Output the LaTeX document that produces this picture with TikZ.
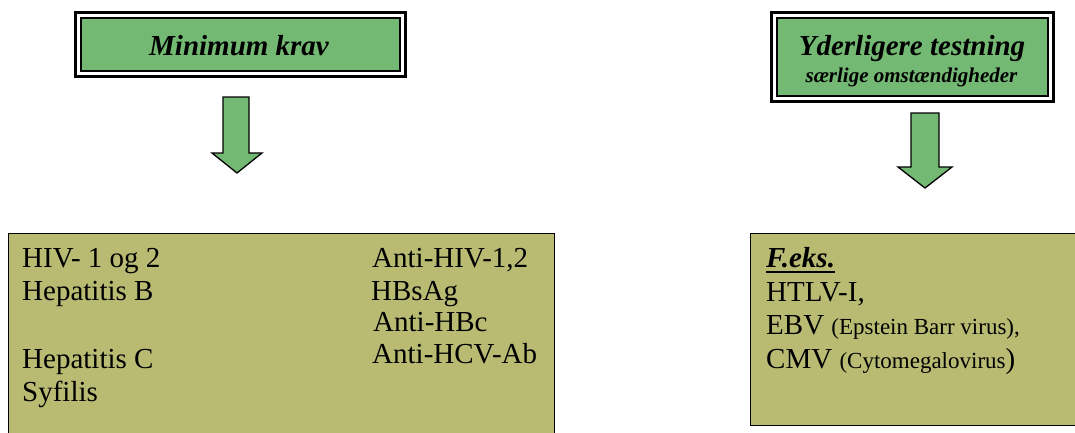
\documentclass[tikz,border=0pt]{standalone}
\usepackage{fontspec}
\setmainfont{Liberation Serif}
\usetikzlibrary{fit}
\definecolor{boxgreen}{RGB}{115,185,115}
\definecolor{boxolive}{RGB}{185,187,115}

\begin{document}
\begin{tikzpicture}[x=1pt,y=-1pt,
  titlebox/.style={draw=black, line width=1.5pt, fill=boxgreen, inner sep=0pt},
  titleframe/.style={draw=black, line width=3pt, inner sep=5pt},
  titletext/.style={inner sep=0pt, anchor=base, font=\bfseries\itshape\fontsize{29}{32}\selectfont},
  subtitletext/.style={inner sep=0pt, anchor=base, font=\bfseries\itshape\fontsize{21}{25}\selectfont},
  infobox/.style={draw=black, line width=1.3pt, fill=boxolive, inner sep=0pt, anchor=north west},
  blockarrow/.style={draw=black, line width=1.3pt, fill=boxgreen, line join=miter},
  bodytext/.style={inner sep=0pt, anchor=base west, font=\fontsize{29}{33}\selectfont}
]
\newcommand\smalltxt{\fontsize{23}{27}\selectfont}
\useasboundingbox (0,0) rectangle (1075,432);
\clip (0,0) rectangle (1075,432);

% heading boxes with double frame
\node[titlebox, minimum width=319pt, minimum height=53pt] (t1) at (240.5,44.5) {};
\node[titleframe, fit=(t1)] (t1frame) {};
\node[titletext] (t1text) at (239,55) {Minimum krav};

\node[titlebox, minimum width=271pt, minimum height=78pt] (t2) at (912.5,57) {};
\node[titleframe, fit=(t2)] (t2frame) {};
\node[titletext] (t2text) at (912,55) {Yderligere testning};
\node[subtitletext] (t2sub) at (911.5,82) {særlige omstændigheder};

% block arrows
\draw[blockarrow] (223,97) -- (249,97) -- (249,153) -- (262,153) -- (237,173)
  -- (212,153) -- (223,153) -- cycle;
\draw[blockarrow] (911,113) -- (939,113) -- (939,167) -- (952,167) -- (925,188)
  -- (898,167) -- (911,167) -- cycle;

% content boxes
\node[infobox, minimum width=546.5pt, minimum height=210pt] (b1) at (7.5,233) {};
\node[infobox, minimum width=340pt, minimum height=192pt] (b2) at (750,233) {};

% minimum requirements
\node[bodytext] (l1) at (22,267) {HIV- 1 og 2};
\node[bodytext] (l2) at (22,300.5) {Hepatitis B};
\node[bodytext] (l3) at (22,368) {Hepatitis C};
\node[bodytext] (l4) at (22,401) {Syfilis};
\node[bodytext] (r1) at (372,267) {Anti-HIV-1,2};
\node[bodytext] (r2) at (371,300) {HBsAg};
\node[bodytext] (r3) at (373,331) {Anti-HBc};
\node[bodytext] (r4) at (372,363) {Anti-HCV-Ab};

% additional testing
\node[bodytext, font=\bfseries\itshape\fontsize{29}{33}\selectfont] (f0) at (766,267) {F.eks.};
\draw[line width=2.2pt] ([yshift=-5pt]f0.base west) -- ([yshift=-5pt]f0.base east);
\node[bodytext] (f1) at (766,301) {HTLV-I,};
\node[bodytext] (f2) at (766,334) {EBV {\smalltxt (Epstein Barr virus),}};
\node[bodytext] (f3) at (766,368) {CMV {\smalltxt (Cytomegalovirus})};
\end{tikzpicture}
\end{document}
